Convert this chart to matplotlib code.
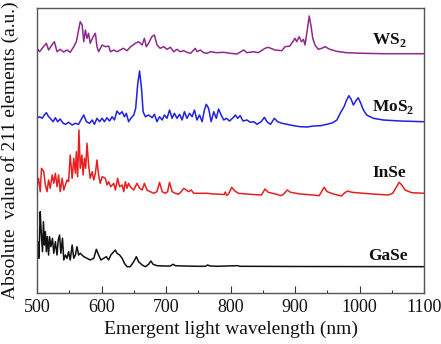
import matplotlib
matplotlib.use("Agg")
import matplotlib.pyplot as plt
from matplotlib.ticker import MultipleLocator

plt.rcParams['font.family'] = ['Liberation Serif', 'DejaVu Serif']
plt.rcParams['mathtext.fontset'] = 'custom'
plt.rcParams['mathtext.rm'] = 'Liberation Serif'
plt.rcParams['mathtext.bf'] = 'Liberation Serif:bold'

# ---------------- data (wavelength in nm, arbitrary offset intensity) ----------------
ws2_nm = [500, 504, 510, 514.5, 518, 523, 527, 531, 536, 541, 546.5, 551.5, 557, 561, 564.5, 567, 570,
          572.5, 575, 577.5, 580, 582.5, 587, 590.5, 593, 595.5, 601, 606, 611, 614, 619, 624, 629, 634,
          639.5, 645, 652.5, 657.5, 663, 666.5, 669.5, 673, 678, 682, 686, 691, 696.5, 701.5, 707, 712,
          717, 722, 727.5, 732.5, 738, 743, 745.5, 748, 753, 758.5, 763.5, 769, 779, 789.5, 800, 810,
          820.5, 825.5, 836, 843, 853.5, 858.5, 869, 879.5, 884.5, 892, 900, 902.5, 906.5, 910, 913,
          915.5, 919, 922, 925, 927.5, 931, 936, 941.5, 946.5, 954, 964.5, 980, 1006, 1037, 1100]
ws2_val = [244.7, 241.3, 246.3, 249.7, 243, 248, 251.3, 241.3, 243.7, 241, 243, 240.7, 246.3, 251.3,
           263, 271.3, 268, 251.3, 263, 254.7, 259.7, 249.7, 256.3, 259.7, 246.3, 241.3, 248, 246.3, 247,
           241.3, 243, 241.3, 243, 244.7, 242.3, 246.3, 249.7, 251.3, 248, 254.7, 246.3, 249.7, 256.3,
           258, 248, 244.7, 246.3, 243.7, 245.7, 241.3, 243.7, 241.3, 242.3, 240.7, 239.7, 243, 244.7,
           241.3, 243, 240.3, 239.7, 241.3, 240.3, 240.7, 239.7, 239, 243, 240.3, 241.3, 240.3, 244.7,
           245.7, 243, 242.3, 246.3, 247, 254.7, 251.3, 256.3, 251.3, 253.7, 248, 263, 277, 266.3, 254.7,
           248, 243.7, 244.7, 246.3, 243.7, 241.7, 240.3, 239.7, 239.3, 239.3]

mos2_nm = [500, 504, 508, 511.5, 514.5, 518, 520.5, 525, 528.5, 532, 536, 540.5, 544, 549, 554.5, 559.5,
           564.5, 568, 572.5, 576.5, 581.5, 585.5, 589, 593, 597, 601, 604.5, 608.5, 612.5, 616.5, 620,
           624, 628, 632, 635.5, 638.5, 642, 645.5, 650, 653, 656, 659, 662, 664.5, 668, 673, 678.5, 682,
           686, 690, 694, 697.5, 701.5, 705.5, 709.5, 713, 717, 721, 725, 728.5, 732.5, 736.5, 740.5, 744,
           748, 752, 756, 759.5, 762.5, 766, 770, 774, 778, 781.5, 785.5, 789.5, 793.5, 798.5, 804, 807.5,
           811, 815, 819.5, 825.5, 830.5, 836, 841, 847.5, 852.5, 856.5, 862, 868, 873, 880, 887.5, 898,
           908, 918.5, 929, 939.5, 949.5, 957.5, 965, 970, 976, 980, 983.5, 987, 990.5, 994.5, 998, 1002,
           1006, 1011, 1021.5, 1037, 1063, 1100]
mos2_val = [174.7, 176.3, 174.7, 178, 180.3, 176.3, 174.7, 171.3, 175.3, 171.3, 174, 169.7, 168.7, 170.7,
            168, 169.7, 168.7, 173, 178, 171.3, 169.7, 173, 168.7, 174.7, 171.3, 174.7, 171.3, 175.3, 172,
            176.3, 173, 182, 178.7, 181.3, 176.3, 179.7, 171.3, 174.7, 178, 184.7, 208, 222, 204.7, 181.3,
            176.3, 178, 175.3, 178.7, 171.3, 176.3, 173, 178, 174.7, 183, 174.7, 179.7, 174.7, 178.7, 173,
            181.3, 174.7, 179.7, 176.3, 183, 173, 178, 171.3, 183, 188.7, 184.7, 171.3, 181.3, 174.7, 184,
            178, 173, 174.7, 172, 175.3, 178, 174.7, 177.3, 172, 173, 170.7, 171.3, 168.7, 171.3, 175.7,
            171.3, 168.7, 174.7, 171.3, 169.7, 168.7, 167.3, 166.3, 166, 167, 167.3, 168.7, 170, 173,
            179.7, 186.3, 193, 197.3, 193.7, 188, 192.3, 195.3, 189.7, 183, 178, 174.7, 173, 172, 171.3]

inse_nm = [500, 502.5, 505, 507, 510.5, 513, 515.5, 518, 520.5, 523.5, 526, 528.5, 531, 533.5, 536, 539,
           541.5, 544, 546.5, 549, 551.5, 554.5, 557, 559.5, 561, 563, 565, 567, 569.5, 571.5, 573.5, 575.5,
           577.5, 580, 582.5, 585.5, 588, 590.5, 593, 595.5, 598, 601, 606, 608.5, 611, 614.5, 619, 621.5,
           625, 628, 632, 634.5, 637, 639.5, 642, 644.5, 650, 655, 659, 663, 666.5, 670.5, 675.5, 681, 686,
           690, 694, 699, 702.5, 705.5, 709.5, 714.5, 719.5, 723.5, 727.5, 731.5, 735, 739, 743, 753, 764,
           774, 784, 790, 792, 794, 797, 802, 806, 812, 830, 848, 853.5, 858.5, 871.5, 878, 882, 888, 893,
           908, 928, 937.5, 945, 950, 959.5, 972, 976, 981.5, 988, 1006, 1026.5, 1044.5, 1051.5, 1057.5,
           1061.5, 1065.5, 1070.5, 1081, 1100]
inse_val = [106.3, 114.7, 101.3, 124.7, 121.3, 108, 101.3, 113, 104.7, 118, 109.7, 119.7, 106.3, 118,
            101.3, 114.7, 103, 108, 113, 111.3, 138, 114.7, 134.7, 119.7, 141.3, 116.3, 163, 124.7, 138,
            118, 134.7, 124.7, 149.7, 128, 114.7, 121.3, 113, 119.7, 133, 118, 109.7, 116.3, 114.7, 108,
            111.3, 106.3, 109.7, 103, 114.7, 106.3, 108, 101.3, 111.3, 104.7, 109.7, 106.3, 103, 109.7,
            104.7, 103, 109.7, 103, 101.3, 99.7, 101.3, 110.7, 101.3, 99.7, 101.3, 110.7, 101.3, 99.7, 98.7,
            101.3, 104.7, 103, 101.3, 103, 99.7, 99.7, 99.7, 99, 98.7, 98.5, 101, 97.5, 99, 105.7, 102.5,
            99.7, 98.7, 98, 104, 100.7, 98.7, 97.3, 98.7, 103, 100.7, 99, 98, 97.3, 105.7, 101.3, 99, 97,
            99.7, 102, 100.7, 99.7, 98.7, 98, 99.7, 106.3, 110.7, 108, 103, 100.3, 99.7]

gase_nm = [500, 501.5, 503, 505, 506.5, 508.5, 510, 511.5, 513, 514.5, 516, 518, 519.5, 521.5, 524, 526,
           528.5, 531, 533, 535, 537, 539.5, 541.5, 544, 546.5, 549, 551.5, 554.5, 557, 559.5, 562, 564.5,
           567, 572.5, 577.5, 582.5, 588, 592, 595.5, 599, 603.5, 607.5, 611, 614.5, 619, 621.5, 624, 628,
           632, 635.5, 639.5, 644.5, 650, 654, 657.5, 663, 668, 673, 676.5, 680, 686, 696.5, 706.5, 711,
           714.5, 727.5, 748, 761, 764.5, 768.5, 779, 811, 815, 900, 1100]
gase_val = [28, 51.3, 34.7, 81.3, 61.3, 41.3, 71.3, 48, 61.3, 41.3, 56.3, 38, 56.3, 46.3, 54.7, 39.7,
            51.3, 38, 53, 58, 39.7, 54.7, 33, 38, 34.7, 41.3, 33, 48, 34.7, 38, 46.3, 38, 39.7, 36.3, 34.7,
            33, 34.7, 43.7, 38, 33, 34.7, 36.3, 33, 38, 41.3, 43, 39.7, 38, 34.7, 29.7, 26.3, 26.3, 31.3,
            36.3, 31.3, 28, 26.3, 28.7, 32, 28.7, 27.3, 27, 27, 28.7, 27.3, 27, 26.7, 26.7, 28, 27, 26.7,
            27.3, 26.7, 26.5, 26.3]

x_ticks = [500, 600, 700, 800, 900, 1000, 1100]
series = [
    (ws2_nm, ws2_val, '#8E2A8E', r'WS$_\mathbf{2}$', 1020, 253),
    (mos2_nm, mos2_val, '#2020E0', r'MoS$_\mathbf{2}$', 1020, 186),
    (inse_nm, inse_val, '#E62020', 'InSe', 1020, 120),
    (gase_nm, gase_val, '#111111', 'GaSe', 1014, 37),
]

fig = plt.figure(figsize=(4.41, 3.44), dpi=100)
ax = fig.add_axes([0.0839, 0.1483, 0.9615 - 0.0839, 0.9767 - 0.1483])

for xs, ys, col, lab, lx, ly in series:
    ax.plot(xs, ys, color=col, lw=1.1)
    ax.text(lx, ly, lab, fontsize=12.5, fontweight='bold', color='#111111',
            ha='left', va='center')

ax.set_xlim(500, 1100)
ax.set_ylim(0, 285)
ax.set_xticks(x_ticks)
ax.xaxis.set_minor_locator(MultipleLocator(50))
ax.set_yticks([])
ax.tick_params(axis='x', which='major', direction='in', length=5, width=0.8,
               labelsize=13, pad=4.5, top=False, colors='#333333', labelcolor='#111111')
ax.tick_params(axis='x', which='minor', direction='in', length=2.5, width=0.8, top=False,
               colors='#333333')
for s in ax.spines.values():
    s.set_color('#555555')
    s.set_linewidth(1.0)

ax.set_xlabel('Emergent light wavelength (nm)', fontsize=14, color='#111111', labelpad=3)
ax.set_ylabel('Absolute  value of 211 elements (a.u.)', fontsize=14, color='#111111')
ax.yaxis.set_label_coords(-0.047, 0.5)

fig.savefig('out.png', dpi=100)
